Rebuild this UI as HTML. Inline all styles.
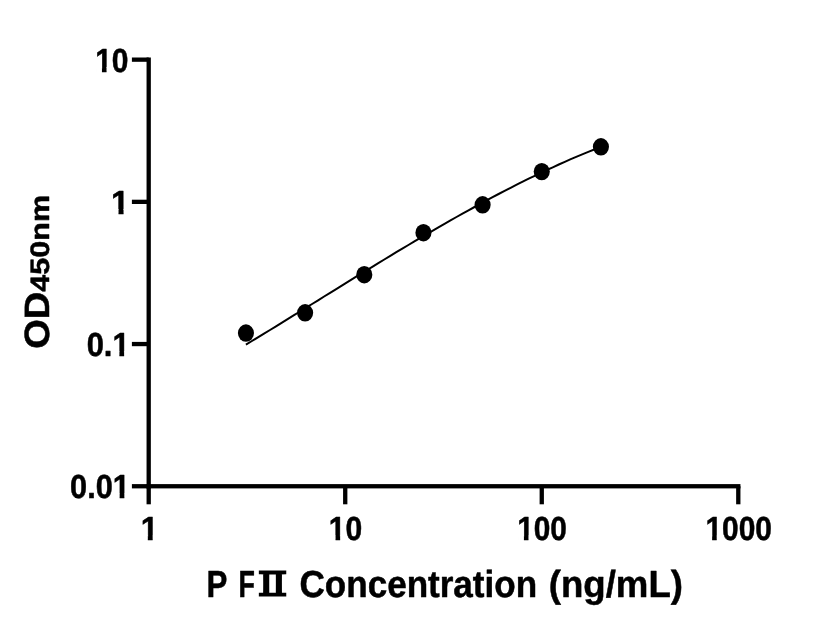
<!DOCTYPE html>
<html lang="en"><head><meta charset="utf-8"><title>P FⅡ Concentration (ng/mL) vs OD450nm</title>
<style>
html,body{margin:0;padding:0;background:#fff;}
body{width:816px;height:640px;overflow:hidden;}
svg{display:block;}
text{font-family:"Liberation Sans","Noto Sans CJK SC",sans-serif;font-weight:bold;fill:#000;stroke:#000;stroke-width:0.5;stroke-linejoin:round;text-rendering:geometricPrecision;}
</style></head>
<body>
<svg width="816" height="640" viewBox="0 0 816 640">
<defs>
<clipPath id="c0" clipPathUnits="userSpaceOnUse"><rect x="-5.00" y="-33.30" width="47.04" height="28.65"/><rect x="-5.00" y="-4.65" width="5.95" height="9.65"/><rect x="7.52" y="-4.65" width="5.07" height="9.65"/><rect x="18.74" y="-4.65" width="23.30" height="9.65"/></clipPath>
<clipPath id="c1" clipPathUnits="userSpaceOnUse"><rect x="-5.00" y="-33.30" width="28.52" height="28.65"/><rect x="-5.00" y="-4.65" width="5.95" height="9.65"/><rect x="7.52" y="-4.65" width="5.07" height="9.65"/><rect x="18.74" y="-4.65" width="4.78" height="9.65"/></clipPath>
<clipPath id="c2" clipPathUnits="userSpaceOnUse"><rect x="-5.00" y="-33.30" width="56.29" height="28.65"/><rect x="-5.00" y="-4.65" width="33.72" height="9.65"/><rect x="35.29" y="-4.65" width="5.07" height="9.65"/><rect x="46.51" y="-4.65" width="4.78" height="9.65"/></clipPath>
<clipPath id="c3" clipPathUnits="userSpaceOnUse"><rect x="-5.00" y="-33.30" width="74.81" height="28.65"/><rect x="-5.00" y="-4.65" width="52.24" height="9.65"/><rect x="53.81" y="-4.65" width="5.07" height="9.65"/><rect x="65.03" y="-4.65" width="4.78" height="9.65"/></clipPath>
<clipPath id="c4" clipPathUnits="userSpaceOnUse"><rect x="-5.00" y="-33.30" width="28.52" height="28.65"/><rect x="-5.00" y="-4.65" width="5.95" height="9.65"/><rect x="7.52" y="-4.65" width="5.07" height="9.65"/><rect x="18.74" y="-4.65" width="4.78" height="9.65"/></clipPath>
<clipPath id="c5" clipPathUnits="userSpaceOnUse"><rect x="-5.00" y="-33.30" width="47.04" height="28.65"/><rect x="-5.00" y="-4.65" width="5.95" height="9.65"/><rect x="7.52" y="-4.65" width="5.07" height="9.65"/><rect x="18.74" y="-4.65" width="23.30" height="9.65"/></clipPath>
<clipPath id="c6" clipPathUnits="userSpaceOnUse"><rect x="-5.00" y="-33.30" width="65.56" height="28.65"/><rect x="-5.00" y="-4.65" width="5.95" height="9.65"/><rect x="7.52" y="-4.65" width="5.07" height="9.65"/><rect x="18.74" y="-4.65" width="41.82" height="9.65"/></clipPath>
<clipPath id="c7" clipPathUnits="userSpaceOnUse"><rect x="-5.00" y="-33.30" width="84.08" height="28.65"/><rect x="-5.00" y="-4.65" width="5.95" height="9.65"/><rect x="7.52" y="-4.65" width="5.07" height="9.65"/><rect x="18.74" y="-4.65" width="60.34" height="9.65"/></clipPath>
</defs>
<rect width="816" height="640" fill="#fff"/>
<g fill="#000" stroke="none">
<!-- axes -->
<rect x="146.55" y="57.50" width="4.3" height="430.90"/>
<rect x="146.55" y="484.10" width="593.89" height="4.3"/>
<!-- y ticks -->
<rect x="131.9" y="484.10" width="16.80" height="4.3"/>
<rect x="131.9" y="341.90" width="16.80" height="4.3"/>
<rect x="131.9" y="199.70" width="16.80" height="4.3"/>
<rect x="131.9" y="57.50" width="16.80" height="4.3"/>
<!-- x ticks -->
<rect x="146.55" y="486.25" width="4.3" height="18.05"/>
<rect x="343.08" y="486.25" width="4.3" height="18.05"/>
<rect x="539.61" y="486.25" width="4.3" height="18.05"/>
<rect x="736.14" y="486.25" width="4.3" height="18.05"/>
</g>
<!-- fitted curve -->
<path d="M245.9,344.7 L251.9,341.0 L257.9,337.4 L264.0,333.7 L270.0,330.0 L276.0,326.3 L282.0,322.6 L288.0,318.9 L294.0,315.2 L300.1,311.5 L306.1,307.7 L312.1,304.0 L318.1,300.3 L324.1,296.5 L330.1,292.8 L336.2,289.1 L342.2,285.4 L348.2,281.6 L354.2,277.9 L360.2,274.2 L366.2,270.5 L372.3,266.8 L378.3,263.2 L384.3,259.5 L390.3,255.9 L396.3,252.2 L402.3,248.6 L408.4,245.0 L414.4,241.4 L420.4,237.9 L426.4,234.3 L432.4,230.8 L438.4,227.3 L444.5,223.9 L450.5,220.4 L456.5,217.0 L462.5,213.6 L468.5,210.3 L474.5,207.0 L480.6,203.7 L486.6,200.4 L492.6,197.2 L498.6,194.0 L504.6,190.9 L510.6,187.8 L516.7,184.7 L522.7,181.7 L528.7,178.7 L534.7,175.8 L540.7,172.9 L546.7,170.0 L552.8,167.3 L558.8,164.5 L564.8,161.8 L570.8,159.2 L576.8,156.6 L582.8,154.1 L588.9,151.6 L594.9,149.2 L600.9,146.8" fill="none" stroke="#000" stroke-width="2" stroke-linecap="butt" stroke-linejoin="round"/>
<!-- data points -->
<g fill="#000">
<ellipse cx="245.95" cy="333.05" rx="8.05" ry="8.7"/>
<ellipse cx="305.11" cy="312.8" rx="8.05" ry="8.7"/>
<ellipse cx="364.28" cy="274.7" rx="8.05" ry="8.7"/>
<ellipse cx="423.44" cy="232.7" rx="8.05" ry="8.7"/>
<ellipse cx="482.60" cy="204.8" rx="8.05" ry="8.7"/>
<ellipse cx="541.76" cy="171.6" rx="8.05" ry="8.7"/>
<ellipse cx="600.92" cy="146.8" rx="8.05" ry="8.7"/>
</g>
<!-- y tick labels -->
<g>
<text transform="matrix(0.9003 0 0 1 95.18 71.6)" font-size="33.3" clip-path="url(#c0)">10</text>
<text transform="matrix(0.9862 0 0 1 111.12 213.7)" font-size="33.3" clip-path="url(#c1)">1</text>
<text transform="matrix(0.9274 0 0 1 86.68 356.0)" font-size="33.3" clip-path="url(#c2)">0.1</text>
<text transform="matrix(0.9212 0 0 1 70.09 498.1)" font-size="33.3" clip-path="url(#c3)">0.01</text>
</g>
<!-- x tick labels -->
<g>
<text transform="matrix(0.9490 0 0 1 140.69 540.2)" font-size="33.3" clip-path="url(#c4)">1</text>
<text transform="matrix(0.9032 0 0 1 328.77 540.2)" font-size="33.3" clip-path="url(#c5)">10</text>
<text transform="matrix(0.8954 0 0 1 517.19 540.2)" font-size="33.3" clip-path="url(#c6)">100</text>
<text transform="matrix(0.8989 0 0 1 705.38 540.2)" font-size="33.3" clip-path="url(#c7)">1000</text>
</g>
<!-- x axis title -->
<g>
<text transform="matrix(0.8303 0 0 1 206.59 596.9)" font-size="37.7">P </text>
<text transform="matrix(0.7117 0 0 1 238.61 596.9)" font-size="37.7">F</text>
<text transform="matrix(1.29 0 0 1 252.44 595.30)" style='font-family:"Noto Serif CJK SC","Liberation Serif",serif;font-weight:200;font-size:31.1px;stroke:#000;stroke-width:3.2px;stroke-linejoin:miter;vector-effect:non-scaling-stroke;text-rendering:auto'>Ⅱ </text>
<text transform="matrix(0.9302 0 0 1 299.49 596.9)" font-size="37.7">Concentration </text>
<text transform="matrix(0.9719 0 0 1 548.75 596.9)" font-size="37.7">(ng/mL)</text>
</g>
<!-- y axis title -->
<g transform="translate(49.3,347.5) rotate(-90)">
<text transform="matrix(1.0857 0 0 1 -1.30 0)" font-size="35.1">OD</text>
<text transform="matrix(1.1475 0 0 1 55.87 0)" font-size="26.6">450nm</text>
</g>
</svg>
</body></html>
